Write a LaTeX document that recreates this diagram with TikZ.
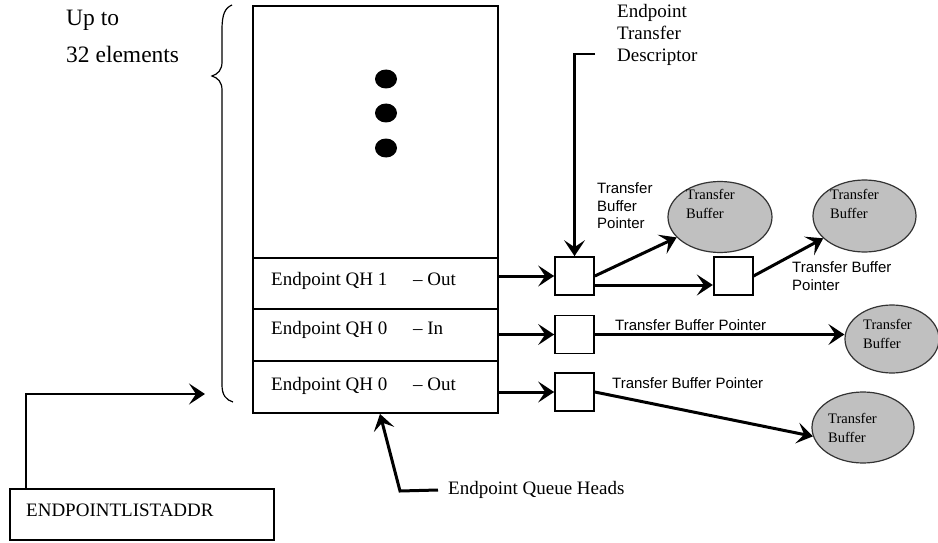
\documentclass[tikz,border=0pt]{standalone}
\usepackage{fontspec}
\setmainfont{Liberation Serif}
\setsansfont{Liberation Sans}
\usetikzlibrary{arrows.meta,positioning,calc,shapes.geometric}
\definecolor{BufGray}{HTML}{C0C0C0}
\definecolor{BufEdge}{HTML}{333333}

\begin{document}
\begin{tikzpicture}[x=1pt,y=-1pt,
serif/.style={font=\fontsize{19}{22}\selectfont,inner sep=0pt,anchor=west,align=left},
sans/.style={font=\sffamily\fontsize{15}{17.5}\selectfont,inner sep=0pt,anchor=west,align=left},
buftxt/.style={font=\fontsize{14.5}{19}\selectfont,inner sep=0pt,anchor=west,align=left},
row/.style={draw,line width=1.9pt,minimum width=245pt,inner sep=0pt},
td/.style={draw,line width=1.7pt,minimum width=39pt,minimum height=38pt,inner sep=0pt},
buf/.style={ellipse,draw=BufEdge,line width=1.2pt,fill=BufGray,inner sep=0pt},
ptr/.style={-{Stealth[length=16pt,width=21pt,inset=7pt]},line width=3pt},
lead/.style={-{Stealth[length=16pt,width=21pt,inset=7pt]},line width=2.3pt}]
\useasboundingbox (0,0) rectangle (938,543);

% queue head list
\node[row,minimum height=252pt] (list) at (375.5,132) {};
\node[row,minimum height=51pt] (qh1) at (375.5,283.5) {};
\node[row,minimum height=52pt] (qh0in) at (375.5,335) {};
\node[row,minimum height=52pt] (qh0out) at (375.5,387) {};
\foreach \y in {79,113,148}
  \fill (386,\y) ellipse [x radius=11pt,y radius=9.5pt];
\node[serif] (t1) at (271,281) {Endpoint QH 1\hspace{21pt} -- Out};
\node[serif] (t2) at (271,330) {Endpoint QH 0\hspace{21pt} -- In};
\node[serif] (t3) at (271,386) {Endpoint QH 0\hspace{21pt} -- Out};

\node[serif,font=\fontsize{23.5}{37}\selectfont] (upto) at (66,36) {Up to\\32 elements};
\draw[line width=1.2pt] (232,5) .. controls (225,8) and (222,14) .. (222,30) -- (222,62)
  .. controls (222,70) and (218,74) .. (212,76) .. controls (218,78) and (222,82) .. (222,90)
  -- (222,385) .. controls (222,395) and (226,400) .. (233,402);

% transfer descriptors and buffers
\node[td] (td1) at (574.5,276) {};
\node[td,right=118pt of td1] (td2) {};
\node[td] (td3) at (574.5,334.5) {};
\node[td] (td4) at (574.5,392) {};

\node[buf,minimum width=104pt,minimum height=71pt] (b1) at (720,217) {};
\node[buf,minimum width=103pt,minimum height=72pt] (b2) at (864.5,216) {};
\node[buf,minimum width=94pt,minimum height=68pt] (b3) at (892,339) {};
\node[buf,minimum width=102pt,minimum height=71pt] (b4) at (863,427.5) {};
\node[buftxt] (b1t) at (686,204) {Transfer\\Buffer};
\node[buftxt] (b2t) at (830,204) {Transfer\\Buffer};
\node[buftxt] (b3t) at (863,334) {Transfer\\Buffer};
\node[buftxt] (b4t) at (828,428) {Transfer\\Buffer};

\draw[ptr] (qh1.east |- td1) -- (td1);
\draw[ptr] (qh0in.east |- td3) -- (td3);
\draw[ptr] (qh0out.east |- td4) -- (td4);
\draw[ptr] ([yshift=-9pt]td1.east) -- ([yshift=-9pt]td2.west);
\draw[ptr] (td1.east) -- (b1);
\draw[ptr] (td2.east) -- (b2);
\draw[ptr] (td3.east) -- (td3.east -| b3.west);
\draw[ptr] (td4.east) -- (b4.190);

\node[sans] (p1) at (597,206) {Transfer\\Buffer\\Pointer};
\node[sans] (p2) at (792,276) {Transfer Buffer\\Pointer};
\node[sans] (p3) at (615,325) {Transfer Buffer Pointer};
\node[sans] (p4) at (612,383) {Transfer Buffer Pointer};

\node[serif] (etdlbl) at (617,35) {Endpoint\\Transfer\\Descriptor};
\coordinate (etd) at (595,54);
\draw[lead] (etd) -- (etd -| td1) -- (td1);

% list address and queue head label
\node[draw,line width=1.6pt,minimum width=264pt,minimum height=51pt] (ela) at (142,514.5) {};
\node[serif] (elat) at (26,510) {ENDPOINTLISTADDR};
\coordinate (listptr) at (205,394);
\draw[lead] ([xshift=17pt]ela.north west) |- (listptr);

\node[serif] (qhl) at (448,490) {Endpoint Queue Heads};
\coordinate (qhbend) at (400,491);
\draw[ptr] ([xshift=-10pt]qhl.west) -- (qhbend) -- ([xshift=4.5pt]qh0out.south);
\end{tikzpicture}
\end{document}
